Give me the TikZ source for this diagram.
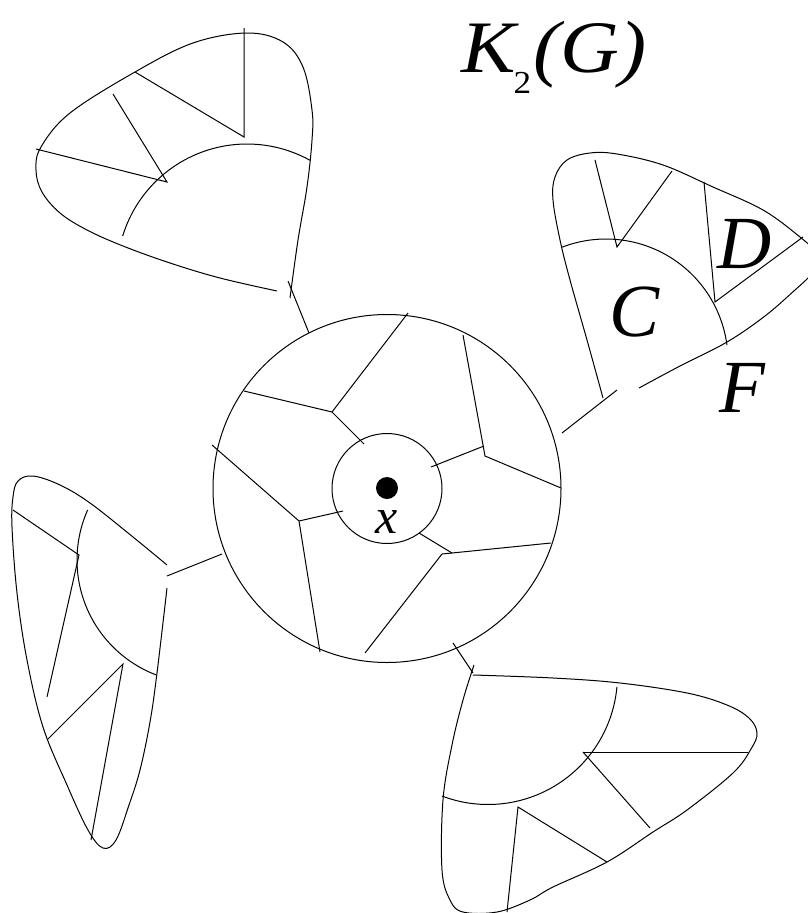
\documentclass[tikz,border=0pt]{standalone}
\usepackage{fontspec}
\setmainfont{Liberation Serif}
\newfontfamily\tms{Liberation Serif}
\begin{document}
\begin{tikzpicture}[x=1pt,y=-1pt,line width=1pt,
  edge/.style={smooth,tension=0.6},
  biglbl/.style={font=\tms\fontsize{75}{80}\selectfont\itshape,inner sep=0pt,anchor=base},
  smalllbl/.style={font=\tms\fontsize{50}{55}\selectfont\itshape,inner sep=0pt,anchor=base}]
\useasboundingbox (0,0) rectangle (808,913);
\clip (0,0) rectangle (808,913);

% ---- central disc ----
\coordinate (ctr) at (387,488.5);
\draw (ctr) circle[radius=174pt];
\draw (ctr) circle[radius=55pt];
\fill (387,488) circle[radius=11pt];
\node[smalllbl] (xl) at (387,533) {x};

% Y-junctions in the annulus
\coordinate (j1) at (332,412);
\coordinate (j2) at (485,456);
\coordinate (j3) at (442,554);
\coordinate (j4) at (299,521);
\draw (244,391) -- (j1) -- (408,313);
\draw (j1) -- (364,444);
\draw (463,335) -- (j2) -- (561,488);
\draw (431,467) -- (484,446);
\draw (551,543) -- (j3) -- (365,653);
\draw (419,533) -- (452,553);
\draw (212,445) -- (j4) -- (320,652);
\draw (343,511) -- (j4);

% connectors from disc to petals
\draw (288,281) -- (309,333);
\draw (562,433) -- (617,390);
\draw (167,576) -- (222,554);
\draw (453,643) -- (473,673);

% ---- top-left petal ----
\draw plot[edge] coordinates {(277,291) (220,278) (170,263) (123,246) (87,230) (60,213) (42,192) (36,170) (41,147) (70,113) (135,72) (193,43) (247,33) (283,42) (303,67) (312,110) (312,140) (307,187) (298,240) (290,298)};
\draw plot[domain=197:299,samples=50] ({247+130*cos(\x)},{274+130*sin(\x)});
\draw (36,149) -- (167,182) -- (113,94);
\draw (135,72) -- (244,137) -- (244,28);

% ---- right petal ----
\draw plot[edge] coordinates {(603,398) (587,340) (570,280) (560,240) (553,200) (555,177) (567,160) (590,153) (617,154) (663,165) (713,187) (763,210) (800,237) (818,254) (820,264) (810,276) (795,290) (765,316) (727,342) (680,366) (639,388)};
\draw plot[domain=249:352.5,samples=50] ({606+122*cos(\x)},{361+122*sin(\x)});
\draw (595,160) -- (617,247) -- (672,171);
\draw (704,182) -- (715,302) -- (803,237);
\node[biglbl] (C) at (635,336) {C};
\node[biglbl] (D) at (745,268) {D};
\node[biglbl] (F) at (742,412) {F};

% ---- left petal ----
\draw plot[edge] coordinates {(167,565) (133,537) (90,503) (60,485) (33,476) (18,481) (13,497) (12,527) (17,593) (27,660) (43,727) (67,785) (88,830) (103,848) (116,840) (129,805) (140,770) (150,722) (157,673) (167,588)};
\draw plot[domain=204:111,samples=50] ({200+123*cos(\x)},{560+123*sin(\x)});
\draw (13,510) -- (79,555) -- (47,697);
\draw (47,740) -- (123,664) -- (91,840);

% ---- bottom petal ----
\draw plot[edge] coordinates {(473,675) (553,678) (620,683) (687,693) (727,705) (749,718) (757,733) (751,749) (733,773) (687,810) (653,832) (607,862) (553,887) (530,900) (497,912) (463,912) (450,900) (442,870) (443,800) (452,745) (463,700) (474,665)};
\draw plot[domain=5.3:110.8,samples=50] ({488+129.5*cos(\x)},{675+129.5*sin(\x)});
\draw (583,752) -- (748,752);
\draw (583,752) -- (650,828);
\draw (507,912) -- (518,807) -- (607,862);

% ---- title ----
\node[inner sep=0pt,anchor=base west] (title) at (461,72)
  {\scalebox{1.1}[1]{\tms\fontsize{74}{80}\selectfont\itshape K\kern-2pt\raisebox{-21pt}{\upshape\fontsize{32}{34}\selectfont 2}\kern2pt(G)}};
\end{tikzpicture}
\end{document}
